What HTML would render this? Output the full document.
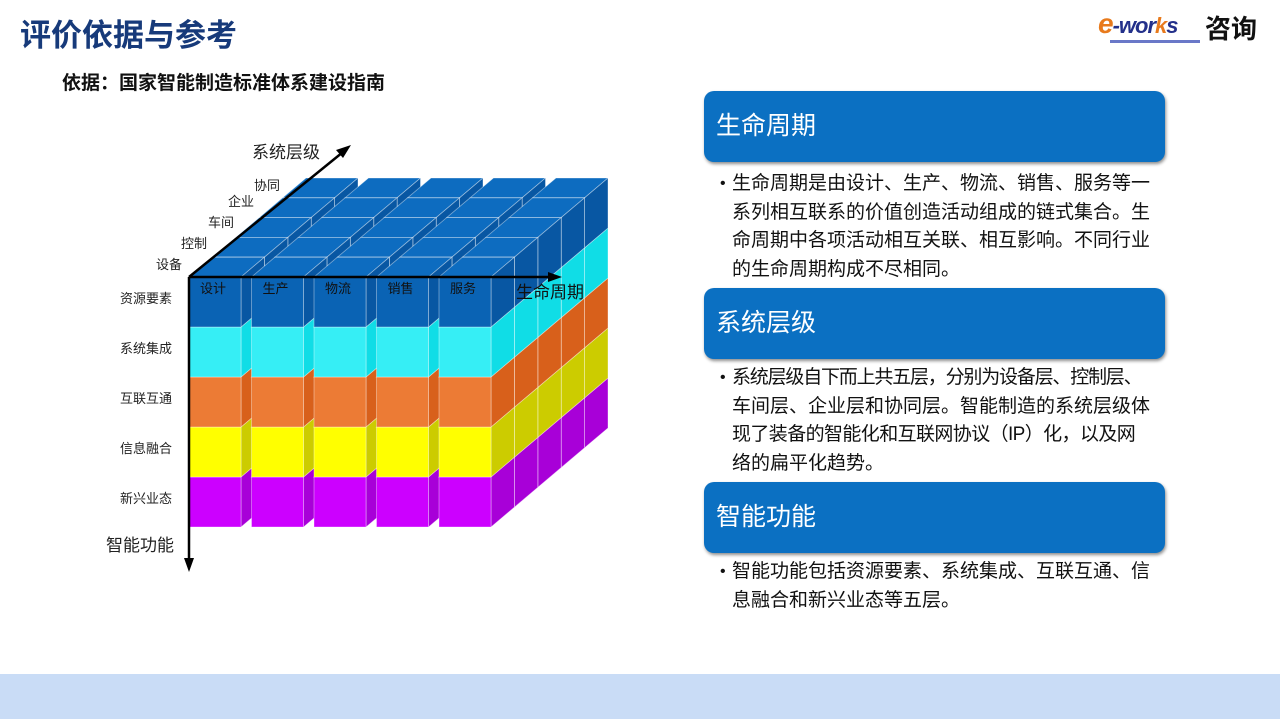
<!DOCTYPE html>
<html><head><meta charset="utf-8"><style>
body{margin:0;width:1280px;height:719px;position:relative;background:#fff;overflow:hidden;font-family:"Liberation Sans","Noto Sans CJK SC",sans-serif}
.t{position:absolute;white-space:nowrap}
.box{position:absolute;left:704px;width:461px;height:71px;border-radius:10px;background:#0b70c2;box-shadow:1px 2px 3px rgba(0,0,0,.45);color:#fff;font-size:25px;line-height:71px;text-indent:12px}
.p{position:absolute;left:732px;width:440px;font-size:19px;line-height:28.5px;color:#111;white-space:nowrap}
.p:before{content:"•";position:absolute;left:-12px;font-size:16px}
</style></head><body>
<div class="t" style="left:20px;top:10px;font-size:31px;font-weight:bold;color:#173a7a">评价依据与参考</div>
<div class="t" style="left:62px;top:68px;font-size:19px;font-weight:bold;color:#111">依据：国家智能制造标准体系建设指南</div>
<div class="t" style="left:1098px;top:8px;font-size:28px;font-style:italic;font-weight:bold;color:#e87a1c;letter-spacing:-1px">e<span style="font-size:22px;color:#23308a">-wor</span><span style="font-size:22px;color:#e87a1c">k</span><span style="font-size:22px;color:#23308a">s</span></div>
<div class="t" style="left:1205px;top:9px;font-size:26px;font-weight:bold;color:#111">咨询</div>
<div style="position:absolute;left:1110px;top:40px;width:90px;height:3px;background:#6a78c8"></div>

<svg id="cube" width="640" height="600" style="position:absolute;left:0;top:0"></svg>

<div class="box" style="top:91px">生命周期</div>
<div class="p" style="top:170px">生命周期是由设计、生产、物流、销售、服务等一<br>系列相互联系的价值创造活动组成的链式集合。生<br>命周期中各项活动相互关联、相互影响。不同行业<br>的生命周期构成不尽相同。</div>
<div class="box" style="top:288px">系统层级</div>
<div class="p" style="top:364px"><span style="letter-spacing:-1.2px">系统层级自下而上共五层，分别为设备层、控制层、</span><br>车间层、企业层和协同层。智能制造的系统层级体<br><span style="letter-spacing:-0.6px">现了装备的智能化和互联网协议（IP）化，以及网</span><br>络的扁平化趋势。</div>
<div class="box" style="top:482px">智能功能</div>
<div class="p" style="top:558px">智能功能包括资源要素、系统集成、互联互通、信<br>息融合和新兴业态等五层。</div>
<div style="position:absolute;left:0;top:674px;width:1280px;height:45px;background:#c9dcf6"></div>

<script>
var s=document.getElementById('cube'),h='';
var C=[['#0a63b4','#0d6cc0','#0857a3'],['#36eef5','#a8f4f7','#10dde6'],['#ec7b35','#f3b289','#d8601b'],['#ffff00','#ffff88','#cccc00'],['#cc00ff','#e080ff','#a800d8']];
var dx=23.4,dy=-19.8,W=52,H=50,cw=62.5;
function poly(p,c){return '<polygon points="'+p.map(function(a){return a[0].toFixed(1)+','+a[1].toFixed(1)}).join(' ')+'" fill="'+c+'" stroke="rgba(255,255,255,0.45)" stroke-width="0.8"/>';}
for(var k=4;k>=0;k--)for(var L=4;L>=0;L--)for(var i=0;i<5;i++){
 if(!(k==0||L==0||i==4))continue;
 var x=189+i*cw+k*dx,y=277+L*H+k*dy,c=C[L];
 h+=poly([[x,y],[x+dx,y+dy],[x+W+dx,y+dy],[x+W,y]],c[1]);
 h+=poly([[x+W,y],[x+W+dx,y+dy],[x+W+dx,y+H+dy],[x+W,y+H]],c[2]);
 h+=poly([[x,y],[x+W,y],[x+W,y+H],[x,y+H]],c[0]);
}
h+='<g stroke="#000" stroke-width="2.5"><line x1="189" y1="277" x2="189" y2="562"/><line x1="189" y1="277" x2="552" y2="277"/><line x1="189" y1="277" x2="343" y2="152"/></g>';
h+='<polygon points="189,572 184,558 194,558" fill="#000"/><polygon points="562,277 548,272 548,282" fill="#000"/><polygon points="351,145 336,150 343,158" fill="#000"/>';
var T=function(x,y,t,f,c){h+='<text x="'+x+'" y="'+y+'" font-size="'+f+'" fill="'+(c||'#222')+'" font-family="Noto Sans CJK SC,sans-serif">'+t+'</text>';};
T(252,158,'系统层级',17);T(254,190,'协同',13);T(228,206,'企业',13);T(208,227,'车间',13);T(181,248,'控制',13);T(156,269,'设备',13);
['资源要素','系统集成','互联互通','信息融合','新兴业态'].forEach(function(t,j){T(120,303+j*50,t,13);});
['设计','生产','物流','销售','服务'].forEach(function(t,j){T(200+j*62.5,293,t,13,'#111');});
T(516,298,'生命周期',17,'#111');T(106,551,'智能功能',17);
s.innerHTML=h;
</script>
</body></html>
